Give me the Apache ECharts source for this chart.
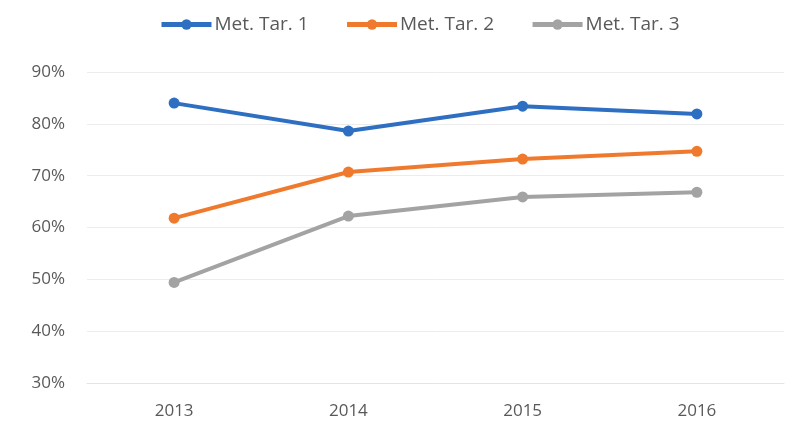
<!DOCTYPE html>
<html>
<head>
<meta charset="utf-8">
<script src="https://cdn.jsdelivr.net/npm/echarts@6/dist/echarts.min.js"></script>
<style>html,body{margin:0;padding:0;background:#fff}#c{width:804px;height:422px}</style>
</head>
<body>
<div id="c"></div>
<script>
const categories = ['2013', '2014', '2015', '2016'];
const seriesNames = ['Met. Tar. 1', 'Met. Tar. 2', 'Met. Tar. 3'];
const tar1 = [84.0, 78.6, 83.4, 81.9];
const tar2 = [61.8, 70.7, 73.2, 74.7];
const tar3 = [49.4, 62.2, 65.9, 66.8];
const yTicks = { min: 30, max: 90, interval: 10 };
const colors = ['#2E6FC2', '#EF7A2E', '#A3A3A3'];

const chart = echarts.init(document.getElementById('c'));
const data = [tar1, tar2, tar3];
chart.setOption({
  animation: false,
  color: colors,
  legend: {
    top: 10,
    left: 154,
    itemWidth: 50,
    itemHeight: 13,
    itemGap: 36,
    lineStyle: { width: 5 },
    textStyle: { fontSize: 19, color: '#595959', fontFamily: 'Open Sans', padding: [0, 0, 0, -2] },
    data: seriesNames
  },
  grid: { left: 87, right: 20, top: 72, bottom: 39 },
  xAxis: {
    type: 'category',
    data: categories,
    boundaryGap: true,
    axisLine: { lineStyle: { color: '#e4e4e4' } },
    axisTick: { show: false },
    axisLabel: { fontSize: 17, color: '#595959', margin: 20, fontFamily: 'Open Sans' }
  },
  yAxis: {
    type: 'value',
    min: yTicks.min, max: yTicks.max, interval: yTicks.interval,
    axisLine: { show: false },
    axisTick: { show: false },
    splitLine: { lineStyle: { color: '#ececec' } },
    axisLabel: { formatter: '{value}%', fontSize: 17, color: '#595959', margin: 22, fontFamily: 'Open Sans' }
  },
  series: seriesNames.map((n, i) => ({
    name: n,
    type: 'line',
    data: data[i],
    symbol: 'circle',
    symbolSize: 11,
    lineStyle: { width: 4 },
    itemStyle: { color: colors[i] }
  }))
});
</script>
</body>
</html>
